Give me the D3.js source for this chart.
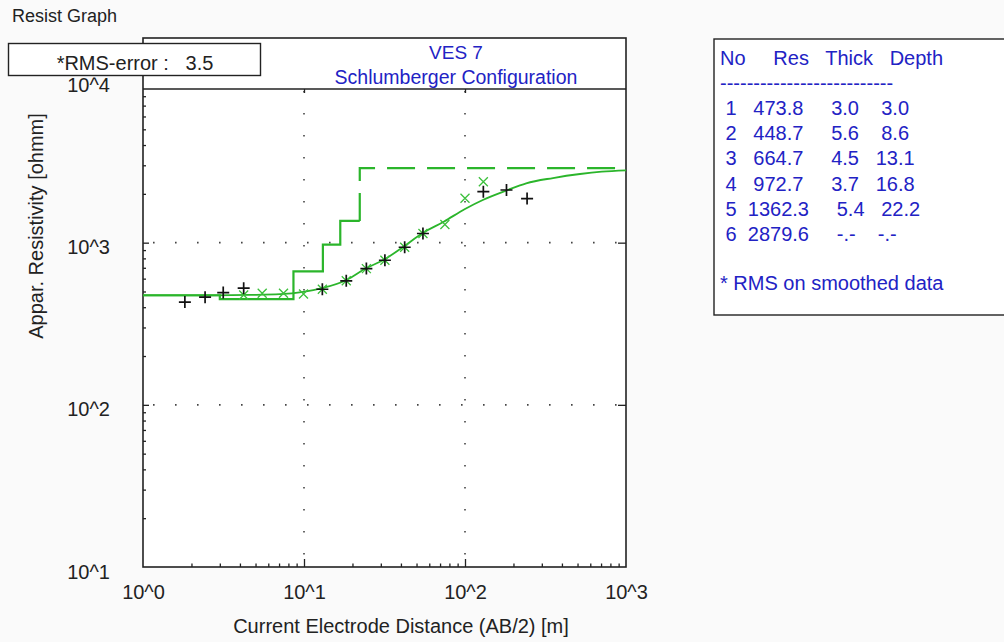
<!DOCTYPE html>
<html>
<head>
<meta charset="utf-8">
<script src="https://cdn.jsdelivr.net/npm/d3@7"></script>
<style>
body { margin: 0; background: #fafafa; }
svg { display: block; font-family: "Liberation Sans", Arial, sans-serif; }
</style>
</head>
<body>
<script>
// field data: AB/2 [m] and apparent resistivity [ohmm]
var obsAB  = [1.82, 2.43, 3.15, 4.22, 13.0, 18.3, 24.4, 31.8, 42.2, 54.8, 130, 181, 243];
var obsRho = [430, 461, 492, 524, 516, 582, 692, 779, 937, 1139, 2062, 2112, 1869];

// smoothed data
var smAB  = [4.22, 5.5, 7.46, 9.93, 13.0, 18.3, 24.4, 31.8, 42.2, 54.8, 75, 100, 130];
var smRho = [476, 488, 488, 483, 516, 582, 692, 779, 937, 1139, 1294, 1877, 2376];

// calculated curve of the layer model
var calcAB  = [1, 2.26, 4.62, 7.1, 9.9, 12.95, 18.4, 24.3, 31.7, 41.5, 54.3, 73.8, 100, 129, 181, 240, 352, 518, 707, 1000];
var calcRho = [473, 473, 476, 481, 497, 524, 589, 695, 790, 945, 1143, 1347, 1613, 1833, 2097, 2323, 2504, 2651, 2739, 2790];

// layer model
var layerNo    = [1, 2, 3, 4, 5, 6];
var layerRes   = [473.8, 448.7, 664.7, 972.7, 1362.3, 2879.6];
var layerThick = [3.0, 5.6, 4.5, 3.7, 5.4, null];
var layerDepth = [3.0, 8.6, 13.1, 16.8, 22.2, null];

var xTicks = [1, 10, 100, 1000];
var yTicks = [10, 100, 1000, 10000];
var xTickLabels = ["10^0", "10^1", "10^2", "10^3"];
var yTickLabels = ["10^1", "10^2", "10^3", "10^4"];

var rmsError = 3.5;

var W = 1004, H = 642;
var plotL = 143, plotR = 626, plotT = 89, plotB = 567, boxT = 38;
var green = "#2bb52b", blue = "#2222c4";

var svg = d3.select("body").append("svg")
  .attr("width", W)
  .attr("height", H);

var x = d3.scaleLog().domain([1, 1000]).range([plotL, plotR]);
var y = d3.scaleLog().domain([10, 10000]).range([plotB, 80.5]);

svg.append("text")
  .attr("x", 12).attr("y", 22)
  .style("font-size", "18px")
  .style("fill", "#222")
  .text("Resist Graph");

// plot box
svg.append("rect")
  .attr("x", plotL).attr("y", boxT)
  .attr("width", plotR - plotL).attr("height", plotB - boxT)
  .style("fill", "#fff");

svg.append("defs").append("clipPath").attr("id", "clip")
  .append("rect")
  .attr("x", plotL).attr("y", plotT)
  .attr("width", plotR - plotL).attr("height", plotB - plotT);

// dotted grid
var grid = svg.append("g")
  .style("stroke", "#444")
  .style("stroke-width", 1.6)
  .style("stroke-dasharray", "1.6 20.4");

grid.selectAll(".gx").data([10, 100]).enter().append("line")
  .attr("x1", function(d) { return x(d); })
  .attr("x2", function(d) { return x(d); })
  .attr("y1", plotT + 2).attr("y2", plotB);

grid.selectAll(".gy").data([100, 1000]).enter().append("line")
  .attr("y1", function(d) { return y(d); })
  .attr("y2", function(d) { return y(d); })
  .attr("x1", plotL + 10).attr("x2", plotR);

// minor tick values
var minor = [];
[1, 10, 100, 1000].forEach(function(d) {
  for (var m = 2; m <= 9; m++) minor.push(d * m);
});
var yMinor = minor.filter(function(v) { return v > 10 && y(v) > plotT + 2; });
var xMinor = minor.filter(function(v) { return v < 1000; });

function noLabel() { return ""; }

// left axis
svg.append("g").attr("transform", "translate(" + plotL + ",0)")
  .call(d3.axisLeft(y).tickValues(yMinor).tickSize(-3).tickFormat(noLabel));
svg.append("g").attr("transform", "translate(" + plotL + ",0)")
  .call(d3.axisLeft(y).tickValues([100, 1000]).tickSize(-6).tickFormat(noLabel));
svg.append("g").attr("class", "ylab").attr("transform", "translate(" + plotL + ",0)")
  .call(d3.axisLeft(y).tickValues(yTicks).tickSize(0).tickPadding(33)
    .tickFormat(function(d, i) { return yTickLabels[i]; }));

// right axis
svg.append("g").attr("transform", "translate(" + plotR + ",0)")
  .call(d3.axisRight(y).tickValues([100, 1000]).tickSize(-8).tickFormat(noLabel));

// bottom axis
svg.append("g").attr("transform", "translate(0," + plotB + ")")
  .call(d3.axisBottom(x).tickValues(xMinor).tickSize(-3.5).tickFormat(noLabel));
svg.append("g").attr("transform", "translate(0," + plotB + ")")
  .call(d3.axisBottom(x).tickValues([10, 100]).tickSize(-8).tickFormat(noLabel));
svg.append("g").attr("class", "xlab").attr("transform", "translate(0," + plotB + ")")
  .call(d3.axisBottom(x).tickValues(xTicks).tickSize(0).tickPadding(18)
    .tickFormat(function(d, i) { return xTickLabels[i]; }));

// top axis (under the title band)
svg.append("g").attr("transform", "translate(0," + plotT + ")")
  .call(d3.axisTop(x).tickValues([10, 100]).tickSize(-4).tickFormat(noLabel));

svg.selectAll(".domain").remove();
svg.selectAll(".tick line").style("stroke", "#222").style("stroke-width", 1.3);
svg.selectAll(".ylab text, .xlab text")
  .style("font-family", "\"Liberation Sans\", Arial, sans-serif")
  .style("font-size", "20px")
  .style("fill", "#222");
svg.selectAll(".ylab text").attr("dy", "0.55em");

// frame
svg.append("rect")
  .attr("x", plotL).attr("y", boxT)
  .attr("width", plotR - plotL).attr("height", plotB - boxT)
  .style("fill", "none").style("stroke", "#222").style("stroke-width", 1.6);
svg.append("line")
  .attr("x1", plotL).attr("x2", plotR)
  .attr("y1", plotT).attr("y2", plotT)
  .style("stroke", "#222").style("stroke-width", 1.6);

// titles
svg.append("text").attr("x", 456).attr("y", 59)
  .attr("text-anchor", "middle")
  .style("font-size", "19px").style("fill", blue)
  .text("VES 7");
svg.append("text").attr("x", 456).attr("y", 84)
  .attr("text-anchor", "middle")
  .style("font-size", "19.5px").style("fill", blue)
  .text("Schlumberger Configuration");

svg.append("text")
  .attr("transform", "translate(43,226) rotate(-90)")
  .attr("text-anchor", "middle")
  .style("font-size", "20px").style("fill", "#222")
  .text("Appar. Resistivity [ohmm]");

svg.append("text").attr("x", 401).attr("y", 633)
  .attr("text-anchor", "middle")
  .style("font-size", "20px").style("fill", "#222")
  .text("Current Electrode Distance (AB/2) [m]");

// data layer
var plot = svg.append("g").attr("clip-path", "url(#clip)");

// layer model as steps
var stepPts = layerRes.slice(0, 5).map(function(r, i) {
  return [i == 0 ? 1 : layerDepth[i - 1], r];
});
stepPts.push([layerDepth[4], layerRes[4]]);
var lastPts = [[layerDepth[4], layerRes[4]], [layerDepth[4], layerRes[5]], [1000, layerRes[5]]];

var stepLine = d3.line()
  .x(function(d) { return x(d[0]); })
  .y(function(d) { return y(d[1]); })
  .curve(d3.curveStepAfter);

plot.append("path").attr("d", stepLine(stepPts))
  .style("fill", "none").style("stroke", green).style("stroke-width", 2.2);
plot.append("path").attr("d", stepLine(lastPts))
  .style("fill", "none").style("stroke", green).style("stroke-width", 2.2)
  .style("stroke-dasharray", "28 12");

// calculated curve
var calcLine = d3.line()
  .x(function(d, i) { return x(calcAB[i]); })
  .y(function(d) { return y(d); })
  .curve(d3.curveMonotoneX);
plot.append("path").attr("d", calcLine(calcRho))
  .style("fill", "none").style("stroke", green).style("stroke-width", 1.8);

// smoothed data: green x
plot.selectAll(".sm").data(smRho).enter().append("path")
  .attr("transform", function(d, i) { return "translate(" + x(smAB[i]) + "," + y(d) + ")"; })
  .attr("d", "M-4.5,-4.5L4.5,4.5M-4.5,4.5L4.5,-4.5")
  .style("stroke", "#3cc03c").style("stroke-width", 1.3).style("fill", "none");

// field data: black +
plot.selectAll(".obs").data(obsRho).enter().append("path")
  .attr("transform", function(d, i) { return "translate(" + x(obsAB[i]) + "," + y(d) + ")"; })
  .attr("d", "M-6,0H6M0,-6V6")
  .style("stroke", "#111").style("stroke-width", 1.7).style("fill", "none");

// RMS box
svg.append("rect")
  .attr("x", 8.5).attr("y", 43.5).attr("width", 252).attr("height", 32)
  .style("fill", "#fff").style("stroke", "#222").style("stroke-width", 1.4);
svg.append("text").attr("x", 135).attr("y", 70)
  .attr("text-anchor", "middle")
  .attr("xml:space", "preserve")
  .style("font-size", "20px").style("fill", "#222")
  .style("white-space", "pre")
  .text("*RMS-error :   " + rmsError.toFixed(1));

// layer table
svg.append("rect")
  .attr("x", 714).attr("y", 39).attr("width", 310).attr("height", 276)
  .style("fill", "#fff").style("stroke", "#222").style("stroke-width", 1.4);

function pad(s, n) { return s.padStart(n, " "); }

var rows = layerNo.map(function(n, i) {
  var s = " " + n + "  " + pad(layerRes[i].toFixed(1), 6);
  s += "     " + (layerThick[i] == null ? "-.-" : layerThick[i].toFixed(1));
  s += "   " + pad(layerDepth[i] == null ? "-.-" : layerDepth[i].toFixed(1), 4);
  return s;
});

var tableLines = ["No     Res   Thick   Depth", d3.range(26).map(function() { return "-"; }).join("")]
  .concat(rows);
var lineY = [65, 90, 115, 140.2, 165.4, 190.6, 215.8, 241];

svg.selectAll(".tbl").data(tableLines).enter().append("text")
  .attr("x", 720)
  .attr("y", function(d, i) { return lineY[i]; })
  .attr("xml:space", "preserve")
  .style("white-space", "pre")
  .style("font-size", "20px").style("fill", blue)
  .text(function(d) { return d; });

svg.append("text").attr("x", 720).attr("y", 290)
  .style("font-size", "20px").style("fill", blue)
  .text("* RMS on smoothed data");
</script>
</body>
</html>
